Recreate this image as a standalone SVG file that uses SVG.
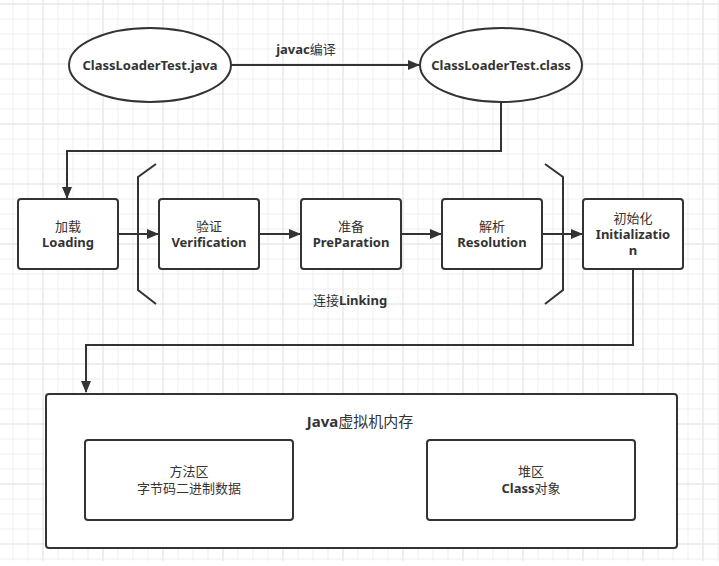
<svg xmlns="http://www.w3.org/2000/svg" width="719" height="566" viewBox="0 0 719 566">
<defs>
<pattern id="gmin" x="12.5" y="3.5" width="15" height="15" patternUnits="userSpaceOnUse"><path d="M0.5 0V15M0 0.5H15" stroke="#efefef" stroke-width="1" fill="none"/></pattern>
<pattern id="gmaj" x="42.5" y="3.5" width="60" height="60" patternUnits="userSpaceOnUse"><path d="M0.5 0V60M0 0.5H60" stroke="#e4e4e4" stroke-width="1" fill="none"/></pattern>
<marker id="arr" markerUnits="userSpaceOnUse" markerWidth="12" markerHeight="10" refX="11" refY="5" orient="auto" viewBox="0 0 12 10"><path d="M0 0L12 5L0 10Z" fill="#333"/></marker>
</defs>
<style>
.sh{fill:#fff;stroke:#333;stroke-width:2}
.ln{fill:none;stroke:#333;stroke-width:2}
text{font-family:"Noto Sans","Noto Sans CJK SC",sans-serif;font-size:13px;font-weight:bold;fill:#333;text-anchor:middle}
.cj{font-weight:normal}
</style>
<rect width="719" height="566" fill="#fff"/>
<rect width="719" height="561" fill="url(#gmin)"/>
<rect width="719" height="561" fill="url(#gmaj)"/>

<g id="connectors">
<path class="ln" d="M231 65H419" marker-end="url(#arr)"/>
<path class="ln" d="M501 102V151H67V198" marker-end="url(#arr)"/>
<path class="ln" d="M118 234H158" marker-end="url(#arr)"/>
<path class="ln" d="M259 234H300" marker-end="url(#arr)"/>
<path class="ln" d="M401 234H441" marker-end="url(#arr)"/>
<path class="ln" d="M542 234H582" marker-end="url(#arr)"/>
<path class="ln" d="M633 269V345H86V392" marker-end="url(#arr)"/>
<path class="ln" d="M293 480H426" marker-end="url(#arr)"/>
<text x="306" y="54"><tspan>javac</tspan><tspan class="cj">编译</tspan></text>
<text x="355" y="471" class="cj">引用</text>
</g>

<g id="java-file">
<ellipse class="sh" cx="150" cy="65" rx="81" ry="37"/>
<text x="150" y="70">ClassLoaderTest.java</text>
</g>
<g id="class-file">
<ellipse class="sh" cx="501" cy="65" rx="81" ry="37"/>
<text x="501" y="70">ClassLoaderTest.class</text>
</g>

<g id="loading">
<rect class="sh" x="18" y="199" width="100" height="70" rx="3"/>
<text x="68" y="231"><tspan class="cj">加载</tspan><tspan x="68" dy="16">Loading</tspan></text>
</g>
<g id="verification">
<rect class="sh" x="159" y="199" width="100" height="70" rx="3"/>
<text x="209" y="231"><tspan class="cj">验证</tspan><tspan x="209" dy="16">Verification</tspan></text>
</g>
<g id="preparation">
<rect class="sh" x="301" y="199" width="100" height="70" rx="3"/>
<text x="351" y="231"><tspan class="cj">准备</tspan><tspan x="351" dy="16">PreParation</tspan></text>
</g>
<g id="resolution">
<rect class="sh" x="442" y="199" width="100" height="70" rx="3"/>
<text x="492" y="231"><tspan class="cj">解析</tspan><tspan x="492" dy="16">Resolution</tspan></text>
</g>
<g id="initialization">
<rect class="sh" x="583" y="199" width="100" height="70" rx="3"/>
<text x="633" y="223"><tspan class="cj">初始化</tspan><tspan x="633" dy="16">Initializatio</tspan><tspan x="633" dy="16">n</tspan></text>
</g>

<g id="linking">
<path class="ln" d="M156 164L138 177V290L156 304"/>
<path class="ln" d="M545 164L563 177V290L545 304"/>
<text x="350" y="305"><tspan class="cj">连接</tspan><tspan>Linking</tspan></text>
</g>

<g id="jvm-memory">
<rect class="sh" x="46" y="394" width="631" height="154" rx="3"/>
<text x="360" y="427" style="font-size:15px"><tspan>Java</tspan><tspan class="cj">虚拟机内存</tspan></text>
</g>
<g id="method-area">
<rect class="sh" x="85" y="440" width="208" height="80" rx="3"/>
<text x="189" y="476" class="cj"><tspan>方法区</tspan><tspan x="189" dy="17">字节码二进制数据</tspan></text>
</g>
<g id="heap">
<rect class="sh" x="427" y="440" width="208" height="80" rx="3"/>
<text x="531" y="476"><tspan class="cj">堆区</tspan><tspan x="531" dy="17">Class</tspan><tspan class="cj">对象</tspan></text>
</g>
</svg>
